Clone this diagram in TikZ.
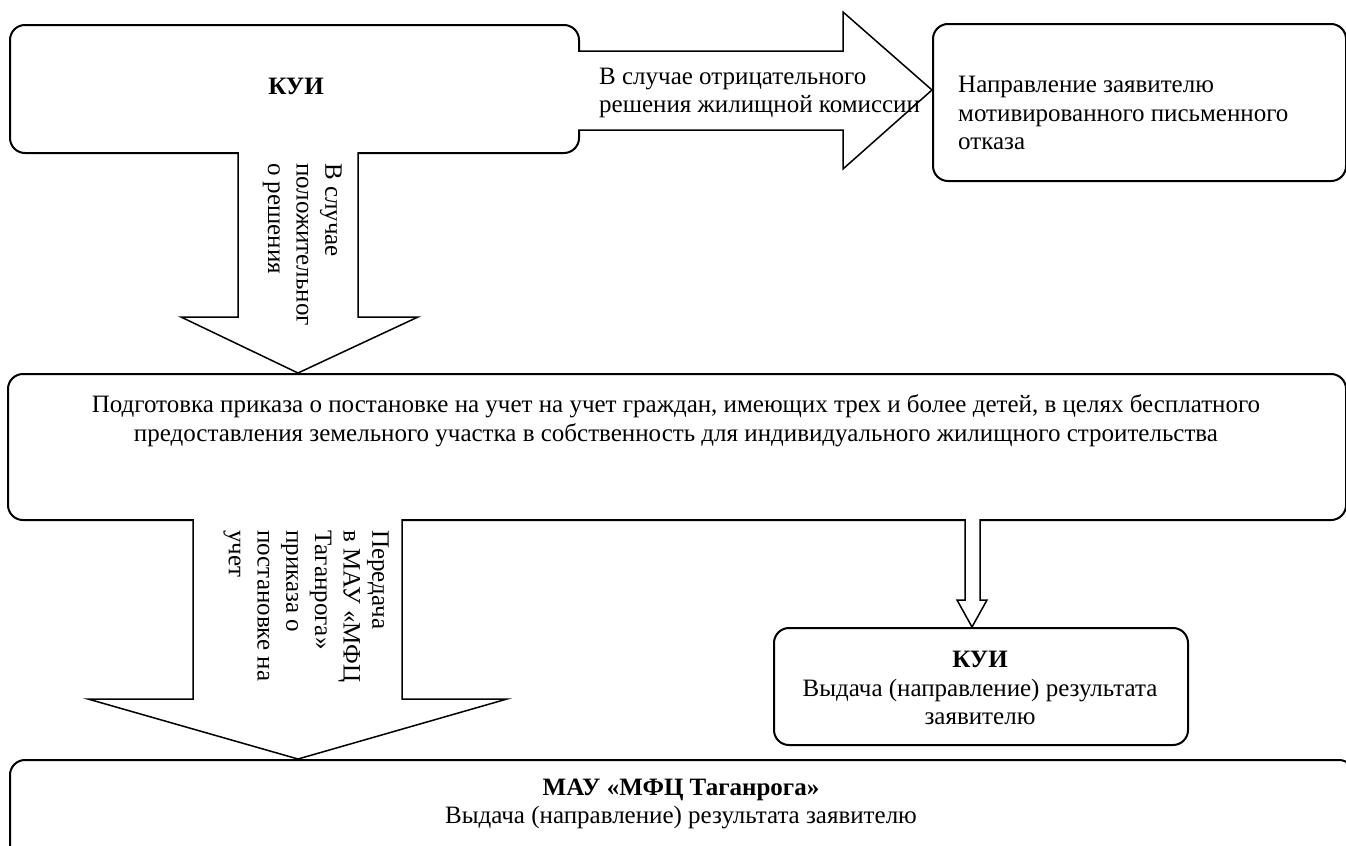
\documentclass[tikz,border=0pt]{standalone}
\usepackage{fontspec}
\setmainfont{Liberation Serif}
\begin{document}
\begin{tikzpicture}[x=1bp,y=-1bp,
  box/.style={draw, line width=2bp, rounded corners=15bp, inner sep=0pt, anchor=north west},
  blockarrow/.style={draw, line width=1.5bp, line join=miter, fill=white},
  txt/.style={font=\fontsize{25bp}{28.7bp}\selectfont, inner sep=0pt},
  vtxt/.style={txt, rotate=-90, anchor=north west, align=left},
]
\useasboundingbox (0,0) rectangle (1346,845);
\clip (0,0) rectangle (1346,845);

% boxes
\node[box, minimum width=569bp, minimum height=128bp] (kui) at (9,24) {};
\node[box, minimum width=413bp, minimum height=157bp] (refuse) at (932,23) {};
\node[box, minimum width=1338bp, minimum height=146bp] (prep) at (7,373) {};
\node[box, minimum width=414bp, minimum height=117bp] (kui2) at (773,627) {};
\node[box, minimum width=1344bp, minimum height=130bp] (mfc) at (9,759) {};

% block arrows
\draw[blockarrow] (578,51) -- (843,51) -- (843,12) -- (932,90) -- (843,169) -- (843,130) -- (578,130);
\draw[blockarrow] (238,152) -- (238,317) -- (181,317) -- (298,373) -- (418,317) -- (358,317) -- (358,152);
\draw[blockarrow] (193,519) -- (193,699) -- (88,699) -- (298,759) -- (507,699) -- (402,699) -- (402,519);
\draw[blockarrow] (965,519) -- (965,600) -- (957,600) -- (972,627) -- (987,600) -- (980,600) -- (980,519);

% texts
\node[txt, font=\fontsize{25bp}{28.7bp}\selectfont\bfseries] (kuit) at (296,86) {КУИ};
\node[txt, anchor=west, align=left] (neg) at (599,93) {В случае отрицательного\\решения жилищной комиссии};
\node[txt, anchor=west, align=left] (reft) at (958,113) {Направление заявителю\\мотивированного письменного\\отказа};
\node[vtxt] (pos) at (342,163) {В случае\\положительног\\о решения};
\node[txt, align=center] (prept) at (676,421) {Подготовка приказа о постановке на учет на учет граждан, имеющих трех и более детей, в целях бесплатного\\предоставления земельного участка в собственность для индивидуального жилищного строительства};
\node[vtxt] (pass) at (389,530) {Передача\\в МАУ «МФЦ\\Таганрога»\\приказа о\\постановке на\\учет};
\node[txt, align=center] (kui2t) at (980,688) {\textbf{КУИ}\\Выдача (направление) результата\\заявителю};
\node[txt, align=center] (mfct) at (681,804) {\textbf{МАУ «МФЦ Таганрога»}\\Выдача (направление) результата заявителю};
\end{tikzpicture}
\end{document}
